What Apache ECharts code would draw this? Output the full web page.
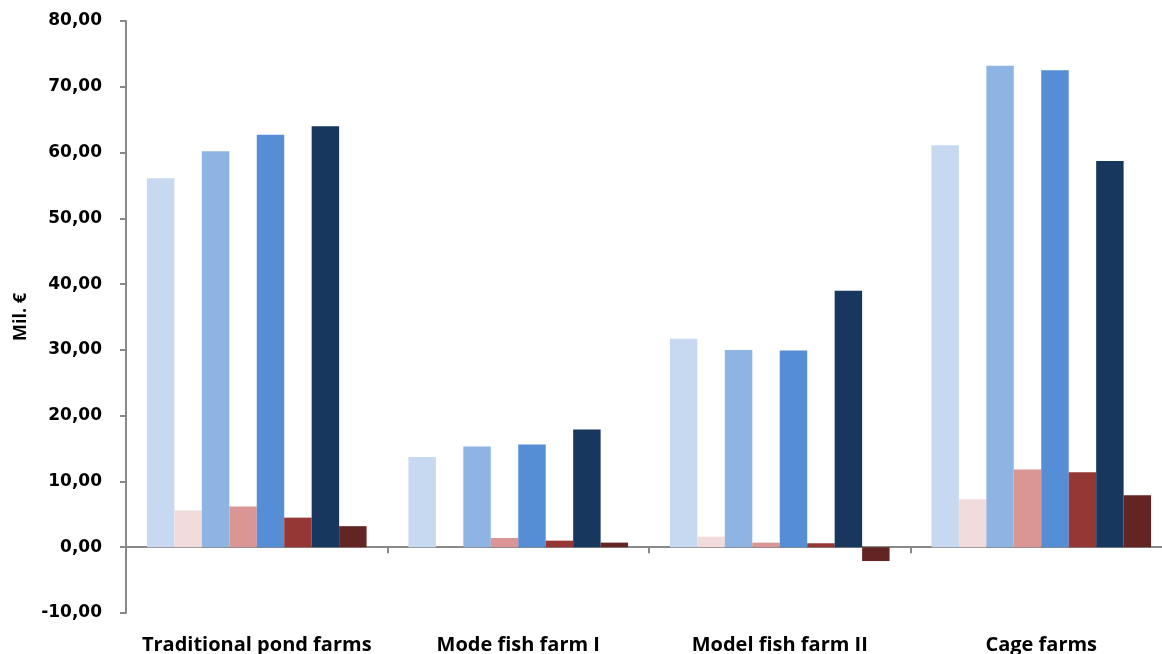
<!DOCTYPE html>
<html>
<head>
<meta charset="utf-8">
<script src="https://cdn.jsdelivr.net/npm/echarts@6/dist/echarts.min.js"></script>
<style>
  html, body { margin: 0; padding: 0; background: #fff; }
  #chart { width: 1162px; height: 654px; }
</style>
</head>
<body>
<div id="chart"></div>
<script>
// Farm types along the category axis
const categories = ['Traditional pond farms', 'Mode fish farm I', 'Model fish farm II', 'Cage farms'];

// Eight series per farm type (Mil. €), alternating blue and red shades
const s1 = [56.1, 13.7, 31.7, 61.1];
const s2 = [5.6, 0.0, 1.6, 7.3];
const s3 = [60.2, 15.3, 30.0, 73.2];
const s4 = [6.2, 1.4, 0.7, 11.8];
const s5 = [62.7, 15.6, 29.9, 72.5];
const s6 = [4.5, 1.0, 0.6, 11.4];
const s7 = [64.0, 17.9, 39.0, 58.7];
const s8 = [3.2, 0.7, -2.1, 7.9];

const seriesValues = [s1, s2, s3, s4, s5, s6, s7, s8];
const seriesNames = ['S1', 'S2', 'S3', 'S4', 'S5', 'S6', 'S7', 'S8'];
const seriesColors = ['#C6D9F1', '#F2DCDB', '#8EB4E3', '#D99694', '#558ED5', '#953735', '#17375E', '#632523'];

const axisGray = '#898989';
const textFont = '"Open Sans", "Noto Sans", sans-serif';

const chart = echarts.init(document.getElementById('chart'), null, { renderer: 'canvas' });

chart.setOption({
  animation: false,
  backgroundColor: '#ffffff',
  // plot area runs slightly past the right edge of the page
  grid: {
    left: 126, width: 1046, top: 21, bottom: 41,
    containLabel: false, outerBoundsMode: 'none'
  },
  xAxis: [
    {
      // axis line through zero with boundary ticks
      type: 'category',
      data: categories,
      position: 'bottom',
      axisLine: { onZero: true, lineStyle: { color: axisGray, width: 2 } },
      axisTick: { show: true, length: 6, lineStyle: { color: axisGray, width: 2 } },
      axisLabel: { show: false },
      splitLine: { show: false }
    },
    {
      // category names along the bottom edge
      type: 'category',
      data: categories,
      position: 'bottom',
      axisLine: { show: false, onZero: false },
      axisTick: { show: false },
      axisLabel: {
        show: true,
        interval: 0,
        hideOverlap: false,
        margin: 22,
        color: '#000',
        fontFamily: textFont,
        fontWeight: 'bold',
        fontSize: 20
      },
      splitLine: { show: false }
    }
  ],
  yAxis: {
    type: 'value',
    min: -10,
    max: 80,
    interval: 10,
    name: 'Mil. €',
    nameLocation: 'middle',
    nameRotate: 90,
    nameGap: 96,
    nameTextStyle: {
      color: '#000',
      fontFamily: textFont,
      fontWeight: 'bold',
      fontSize: 18
    },
    axisLine: { show: true, lineStyle: { color: axisGray, width: 2 } },
    axisTick: { show: true, length: 6, lineStyle: { color: axisGray, width: 2 } },
    splitLine: { show: false },
    axisLabel: {
      margin: 24,
      color: '#000',
      fontFamily: '"DejaVu Sans", sans-serif',
      fontWeight: 'bold',
      fontSize: 17,
      formatter: v => v.toFixed(2).replace('.', ',')
    }
  },
  series: seriesValues.map((vals, i) => ({
    name: seriesNames[i],
    type: 'bar',
    xAxisIndex: 0,
    data: vals,
    barGap: '0%',
    barCategoryGap: '16%',
    itemStyle: { color: seriesColors[i] }
  }))
});
</script>
</body>
</html>
